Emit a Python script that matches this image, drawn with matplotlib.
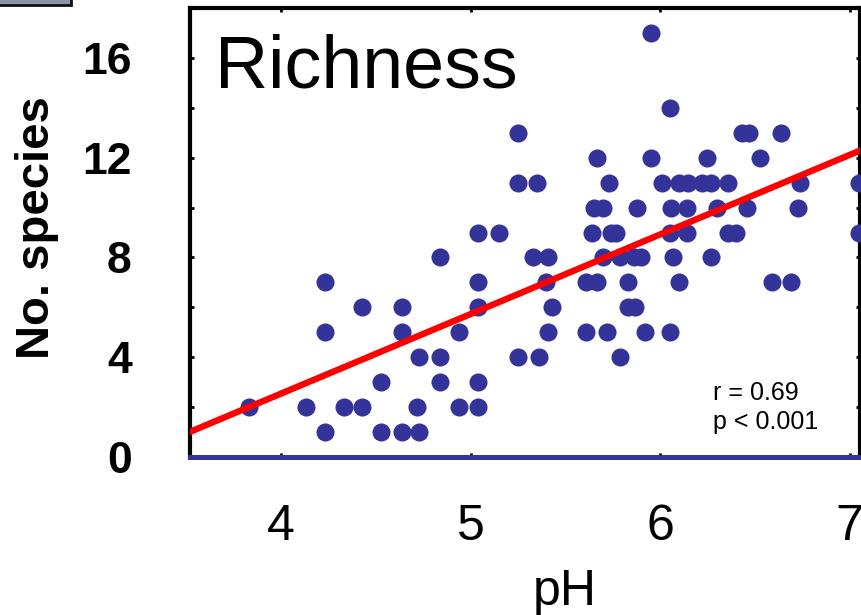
import matplotlib
matplotlib.use("Agg")
from matplotlib import pyplot as plt
from matplotlib.patches import Rectangle
from matplotlib.ticker import MultipleLocator

plt.rcParams['font.family'] = ['Liberation Sans', 'DejaVu Sans']

# species counts per site, grouped by count level
species = [1]*4 + [2]*7 + [3]*3 + [4]*5 + [5]*8 + [6]*6 + [7]*9 + [8]*9 \
    + [9]*10 + [10]*8 + [11]*11 + [12]*4 + [13]*4 + [14] + [17]
ph = [4.23, 4.53, 4.64, 4.73,
      3.83, 4.13, 4.33, 4.43, 4.72, 4.94, 5.04,
      4.53, 4.84, 5.04,
      4.73, 4.84, 5.25, 5.36, 5.79,
      4.23, 4.64, 4.94, 5.41, 5.61, 5.72, 5.92, 6.05,
      4.43, 4.64, 5.04, 5.43, 5.83, 5.87,
      4.23, 5.04, 5.40, 5.61, 5.67, 5.83, 6.10, 6.59, 6.69,
      4.84, 5.33, 5.41, 5.70, 5.79, 5.86, 5.90, 6.07, 6.27,
      5.04, 5.15, 5.64, 5.74, 5.77, 6.05, 6.14, 6.36, 6.40, 7.05,
      5.65, 5.70, 5.88, 6.06, 6.14, 6.30, 6.46, 6.73,
      5.25, 5.35, 5.73, 6.01, 6.10, 6.15, 6.22, 6.27, 6.36, 6.74, 7.05,
      5.67, 5.95, 6.25, 6.53,
      5.25, 6.43, 6.47, 6.64,
      6.05,
      5.95]

# regression line
slope = 3.19
intercept = -10.22
stats_text = "r = 0.69\np < 0.001"

xticks = [4, 5, 6, 7]
yticks = [0, 4, 8, 12, 16]

navy = "#333399"

fig = plt.figure(figsize=(8.62, 6.15), dpi=100)
ax = fig.add_axes([190/862, 1 - 457/615, 670/862, 449/615])

xmin, xmax = 3.52, 7.055
ax.set_xlim(xmin, xmax)
ax.set_ylim(0, 18)

ax.plot(ph, species, 'o', color=navy, markersize=13, markeredgewidth=0, zorder=3)
lx = [xmin - 0.1, xmax + 0.1]
ax.plot(lx, [slope*v + intercept for v in lx], color="#ff0000", lw=4.6, zorder=4)

for side in ['left', 'top', 'right']:
    ax.spines[side].set_linewidth(3)
    ax.spines[side].set_color('black')
ax.spines['bottom'].set_linewidth(3.6)
ax.spines['bottom'].set_color(navy)
ax.spines['bottom'].set_zorder(5)

ax.set_xticks(xticks)
ax.set_yticks(yticks)
ax.yaxis.set_minor_locator(MultipleLocator(2))
ax.tick_params(axis='y', which='both', direction='in', length=3, width=2,
               right=True, pad=42, labelsize=32)
ax.tick_params(axis='x', direction='in', length=3, width=2, top=True,
               pad=34, labelsize=36)
for lab in ax.get_yticklabels():
    lab.set_fontweight('bold')

ax.set_ylabel("No. species", fontsize=34, fontweight='bold', va='center')
ax.yaxis.set_label_coords((37 - 190)/670, (457 - 228)/449)
ax.set_xlabel("pH", fontsize=36)
ax.xaxis.set_label_coords((565 - 190)/670, (457 - 592)/449)
ax.xaxis.label.set_va('center')

ax.text(0.037, 0.822, "Richness", transform=ax.transAxes, fontsize=53,
        va='baseline', ha='left')
ax.text(0.78, 0.11, stats_text, transform=ax.transAxes, fontsize=18,
        va='center', ha='left', linespacing=1.25)

# bit of a box peeking in at the top-left corner
fig.patches.append(Rectangle((-0.01, 1 - 5/615), 80/862, 0.03,
                             transform=fig.transFigure, facecolor="#8797a8",
                             edgecolor="#111111", linewidth=2))

fig.savefig("out.png", dpi=100)
